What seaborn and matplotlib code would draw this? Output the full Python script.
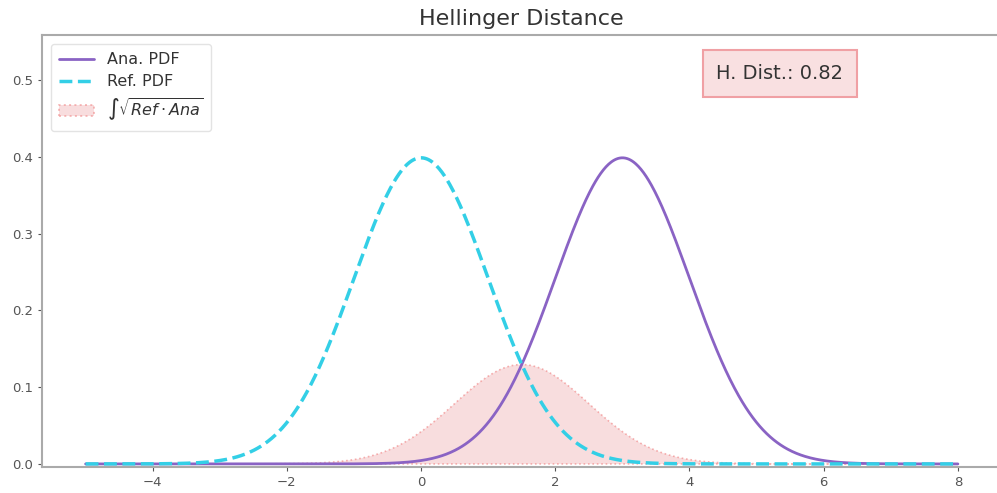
import numpy as np
import pandas as pd
import matplotlib
matplotlib.use("Agg")
import matplotlib.pyplot as plt
import seaborn as sns

# Distribution parameters
series_names = ["Ana. PDF", "Ref. PDF"]
means = [3.0, 0.0]
stds = [1.0, 1.0]
x_range = [-5.0, 8.0]
n_points = 1000
title = "Hellinger Distance"
overlap_label = r"$\int\sqrt{Ref \cdot Ana}$"

x = np.linspace(x_range[0], x_range[1], n_points)

def pdf(xv, m, s):
    return np.exp(-0.5 * ((xv - m) / s) ** 2) / (s * np.sqrt(2 * np.pi))

ana = pdf(x, means[0], stds[0])
ref = pdf(x, means[1], stds[1])
overlap = np.sqrt(ana * ref)
bc = np.trapezoid(overlap, x)
h_dist = np.sqrt(1 - bc)

df = pd.DataFrame({"x": np.concatenate([x, x]),
                   "y": np.concatenate([ana, ref]),
                   "series": [series_names[0]] * n_points + [series_names[1]] * n_points})

sns.set_style("ticks")
fig = plt.figure(figsize=(9.97, 4.93), dpi=100)
ax = fig.add_axes([42 / 997, (493 - 467) / 493, (1001.5 - 42) / 997, (467 - 35) / 493])

purple = "#8a63c4"
cyan = "#33cfe6"
sns.lineplot(data=df[df.series == series_names[0]], x="x", y="y", color=purple,
             linewidth=2, ax=ax, label=series_names[0])
sns.lineplot(data=df[df.series == series_names[1]], x="x", y="y", color=cyan,
             linewidth=2.5, linestyle="--", ax=ax, label=series_names[1])
ax.fill_between(x, overlap, color="#f4c7c9", alpha=0.6, edgecolor="#f08080",
                linestyle=":", linewidth=1.2, label=overlap_label)

ax.set_xlim(-5.65, 8.65)
ax.set_ylim(-0.004, 0.559)
ax.set_xticks([-4, -2, 0, 2, 4, 6, 8])
ax.set_yticks([0.0, 0.1, 0.2, 0.3, 0.4, 0.5])
ax.set_xlabel("")
ax.set_ylabel("")
ax.tick_params(labelsize=9.5, colors="#555555", length=3)
for sp in ax.spines.values():
    sp.set_color("#aaaaaa")
    sp.set_linewidth(1.5)
ax.set_title(title, fontsize=16, color="#333333", pad=7)

leg = ax.legend(loc="upper left", fontsize=11.5, frameon=True, borderpad=0.5,
                handlelength=2.2, labelspacing=0.45, bbox_to_anchor=(0.001, 0.997))
leg.get_frame().set_edgecolor("#dddddd")
for t in leg.get_texts():
    t.set_color("#333333")

ax.text(0.769, 0.911, f"H. Dist.: {h_dist:.2f}", transform=ax.transAxes,
        fontsize=14, color="#333333", ha="center", va="center",
        bbox=dict(boxstyle="square,pad=0.7", facecolor="#f9e0e1",
                  edgecolor="#f0a0a4", linewidth=1.5))

fig.savefig("out.png", dpi=100)
